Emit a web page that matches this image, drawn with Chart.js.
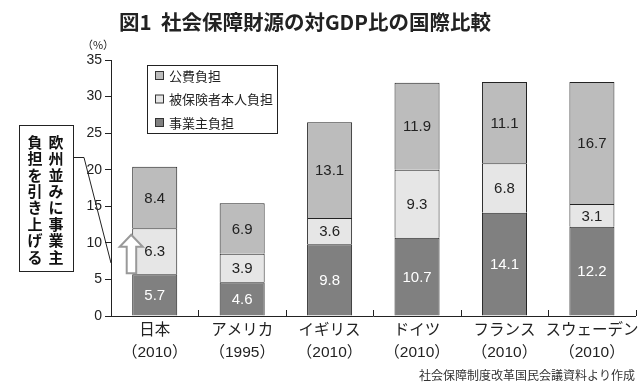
<!DOCTYPE html>
<html>
<head>
<meta charset="utf-8">
<script src="https://cdn.jsdelivr.net/npm/chart.js@4.4.1/dist/chart.umd.min.js"></script>
<style>
  html, body { margin: 0; padding: 0; background: #fff; }
  #wrap { width: 643px; height: 389px; }
</style>
</head>
<body>
<div id="wrap"><canvas id="chart" width="643" height="389"></canvas></div>
<script>
const countries = ["日本", "アメリカ", "イギリス", "ドイツ", "フランス", "スウェーデン"];
const years = ["（2010）", "（1995）", "（2010）", "（2010）", "（2010）", "（2010）"];
const employer = [5.7, 4.6, 9.8, 10.7, 14.1, 12.2];
const insured = [6.3, 3.9, 3.6, 9.3, 6.8, 3.1];
const publicFunds = [8.4, 6.9, 13.1, 11.9, 11.1, 16.7];
const seriesNames = ["事業主負担", "被保険者本人負担", "公費負担"];
const seriesColors = ["#808080", "#e6e6e6", "#bcbcbc"];
const labelColors = ["#ffffff", "#222222", "#222222"];

const jp = '"Noto Sans CJK JP", "Noto Sans", sans-serif';
const num = '"Liberation Sans", Arial, sans-serif';
const mixed = '"Liberation Sans", "Noto Sans CJK JP", sans-serif';

Chart.defaults.color = "#222222";

// annotations, legend and value labels
const decor = {
    id: "decor",
    afterDatasetsDraw(chart) {
        const ctx = chart.ctx;
        const x = chart.scales.x;
        const y = chart.scales.y;
        ctx.save();

        // value labels inside the segments
        chart.data.datasets.forEach((ds, i) => {
            chart.getDatasetMeta(i).data.forEach((bar, j) => {
                ctx.fillStyle = labelColors[i];
                ctx.font = "15px " + num;
                ctx.textAlign = "center";
                ctx.textBaseline = "middle";
                ctx.fillText(ds.data[j].toFixed(1), bar.x, (bar.y + bar.base) / 2 + 1);
            });
        });

        // ticks pointing inward on the x axis, at category boundaries
        ctx.strokeStyle = "#222";
        ctx.lineWidth = 1;
        for (let i = 0; i < countries.length; i++) {
            let px = i < countries.length - 1
                ? (x.getPixelForValue(i) + x.getPixelForValue(i + 1)) / 2
                : x.right;
            px = Math.round(px) + 0.5;
            ctx.beginPath();
            ctx.moveTo(px, y.bottom);
            ctx.lineTo(px, y.bottom - 6);
            ctx.stroke();
        }

        // title
        ctx.fillStyle = "#222";
        ctx.font = "bold 20.5px " + jp;
        ctx.textAlign = "left";
        ctx.textBaseline = "middle";
        ctx.fillText("図1  社会保障財源の対GDP比の国際比較", 119, 22);

        // unit
        ctx.font = "11px " + jp;
        ctx.textAlign = "center";
        ctx.fillText("（%）", 98, 45);

        // legend
        ctx.fillStyle = "#fff";
        ctx.fillRect(147.5, 65.5, 130, 68);
        ctx.strokeStyle = "#222";
        ctx.strokeRect(147.5, 65.5, 130, 68);
        const rows = [2, 1, 0];
        rows.forEach((k, r) => {
            const cy = 76 + r * 23.5;
            ctx.fillStyle = seriesColors[k];
            ctx.fillRect(155.5, cy - 4.5, 8, 8);
            ctx.strokeStyle = "#333";
            ctx.strokeRect(155.5, cy - 4.5, 8, 8);
            ctx.fillStyle = "#222";
            ctx.font = "13px " + jp;
            ctx.textAlign = "left";
            ctx.textBaseline = "middle";
            ctx.fillText(seriesNames[k], 169, cy);
        });

        // callout box with vertical text
        ctx.fillStyle = "#fff";
        ctx.fillRect(19.5, 125.5, 54, 146);
        ctx.strokeStyle = "#222";
        ctx.strokeRect(19.5, 125.5, 54, 146);
        const col1 = "欧州並みに事業主";
        const col2 = "負担を引き上げる";
        ctx.fillStyle = "#111";
        ctx.font = "bold 15px " + jp;
        ctx.textAlign = "center";
        ctx.textBaseline = "middle";
        for (let i = 0; i < col1.length; i++) {
            ctx.fillText(col1[i], 56, 142 + i * 16.4);
            ctx.fillText(col2[i], 35, 142 + i * 16.4);
        }
        ctx.beginPath();
        ctx.moveTo(73.5, 157.5);
        ctx.lineTo(84, 157.5);
        ctx.lineTo(111, 263);
        ctx.stroke();

        // hollow arrow on Japan's bar
        const bar0 = chart.getDatasetMeta(0).data[0];
        const ax = bar0.x - bar0.width / 2 - 1;
        const base = y.getPixelForValue(employer[0]) - 1;
        const tip = y.getPixelForValue(11.1);
        const headY = tip + 12;
        ctx.beginPath();
        ctx.moveTo(ax, tip);
        ctx.lineTo(ax + 11.5, headY);
        ctx.lineTo(ax + 5, headY);
        ctx.lineTo(ax + 5, base);
        ctx.lineTo(ax - 4.5, base);
        ctx.lineTo(ax - 4.5, headY);
        ctx.lineTo(ax - 11.5, headY);
        ctx.closePath();
        ctx.fillStyle = "#fff";
        ctx.fill();
        ctx.strokeStyle = "#999";
        ctx.lineWidth = 2;
        ctx.stroke();

        // source
        ctx.fillStyle = "#333";
        ctx.font = "12px " + jp;
        ctx.textAlign = "right";
        ctx.textBaseline = "middle";
        ctx.fillText("社会保障制度改革国民会議資料より作成", 635, 375);

        ctx.restore();
    }
};

const ctx = document.getElementById("chart");

new Chart(ctx, {
    type: "bar",
    data: {
        labels: countries.map((c, i) => [c, years[i]]),
        datasets: [
            { label: seriesNames[0], data: employer, backgroundColor: seriesColors[0] },
            { label: seriesNames[1], data: insured, backgroundColor: seriesColors[1] },
            { label: seriesNames[2], data: publicFunds, backgroundColor: seriesColors[2] },
        ].map((d) => ({
            ...d,
            borderColor: "#222",
            borderWidth: 1,
            categoryPercentage: 1,
            barPercentage: 0.515,
        })),
    },
    options: {
        responsive: false,
        animation: false,
        layout: { padding: { top: 60, right: 7, left: 0, bottom: 0 } },
        plugins: {
            legend: { display: false },
            title: { display: false },
            tooltip: { enabled: false },
        },
        scales: {
            x: {
                stacked: true,
                grid: { display: false, drawTicks: false },
                border: { display: true, color: "#222", width: 1 },
                ticks: {
                    autoSkip: false,
                    padding: 4,
                    maxRotation: 0,
                    color: "#222",
                    font: { family: mixed, size: 15.5, lineHeight: 1.42 },
                },
                afterFit: (scale) => { scale.height = 73; },
            },
            y: {
                stacked: true,
                min: 0,
                max: 35,
                grid: {
                    drawOnChartArea: false,
                    drawTicks: true,
                    tickLength: 6,
                    color: "#222",
                },
                border: { display: true, color: "#222", width: 1 },
                ticks: {
                    stepSize: 5,
                    padding: 3,
                    color: "#222",
                    font: { family: num, size: 14 },
                },
                afterFit: (scale) => { scale.width = 111; },
            },
        },
    },
    plugins: [decor],
});
</script>
</body>
</html>
